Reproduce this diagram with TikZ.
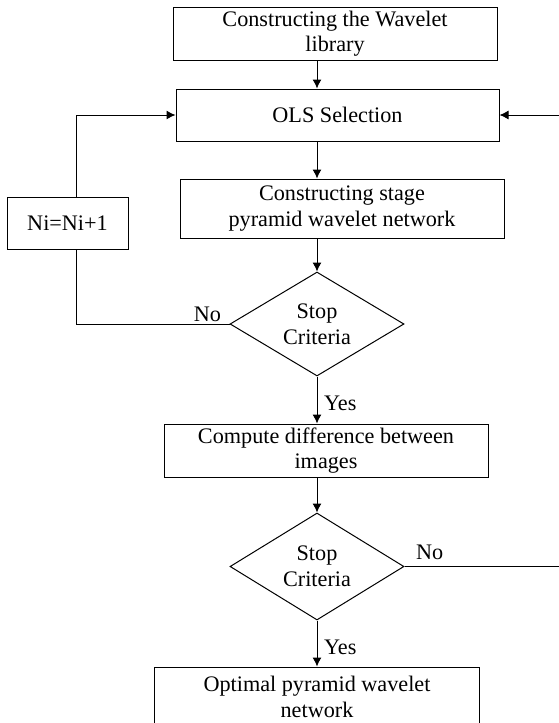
\documentclass[tikz,border=0pt]{standalone}
\usepackage{fontspec}
\setmainfont{Liberation Serif}
\usetikzlibrary{shapes.geometric,arrows.meta}

\begin{document}
\begin{tikzpicture}[x=0.5pt,y=0.5pt,->,>={Latex[length=4.5pt,width=4.5pt]},line width=0.5pt,
	font=\fontsize{11.1}{12.8}\selectfont,
	box/.style={rectangle,draw,align=center,minimum width=162pt,minimum height=26.5pt,inner sep=0pt},
	decision/.style={diamond,draw,align=center,shape aspect=1.7,minimum width=87pt,minimum height=52pt,inner sep=0pt}]
			
			\useasboundingbox (0,0) rectangle (558,-723);
			
			\node[box] (lib) at (335,-33.5) {Constructing the Wavelet\\library};
			\node[box,minimum width=161.5pt,minimum height=26pt] (ols) [below of = lib,node distance=40.75pt,xshift=1.25pt] {OLS Selection};
			\node[box,minimum height=29.5pt] (stage) [below of = ols,node distance=46.75pt,xshift=2.25pt] {Constructing stage\\pyramid wavelet network};
			\node[decision] (stop1) [below of = stage,node distance=57.75pt,xshift=-12.5pt] {Stop\\Criteria};
			\node[box] (diff) [below of = stop1,node distance=63.25pt,xshift=4.5pt] {Compute difference between\\images};
			\node[decision,minimum height=53.5pt] (stop2) [below of = diff,node distance=58pt,xshift=-4.5pt] {Stop\\Criteria};
			\node[box,minimum width=162.5pt,minimum height=30pt] (final) [below of = stop2,node distance=65.25pt] {Optimal pyramid wavelet\\network};
			\node[box,minimum width=60.5pt,minimum height=26pt] (ni) [left of = stage,node distance=137.25pt,yshift=-7.25pt] {Ni=Ni+1};
			
			% loop-back columns
			\coordinate (lx) at (76,0);
			\coordinate (rx) at (563,0);
			
			\path
			(lib.south -| stop1) edge (ols.north -| stop1)
			(ols.south -| stop1) edge (stage.north -| stop1)
			(stage.south -| stop1) edge (stop1.north)
			(stop1.south) edge node[right,pos=0.58] {Yes} (diff.north -| stop1)
			(diff.south -| stop2) edge (stop2.north)
			(stop2.south) edge node[right,pos=0.59] {Yes} (final.north -| stop2)
			;
			
			\draw[-] (stop1.west) node[anchor=south east,inner sep=1pt,xshift=-3pt] {No} -- (stop1.west -| lx) -- (ni.south -| lx);
			\draw (ni.north -| lx) |- (ols.west);
			\draw (stop2.east) node[anchor=south west,inner sep=0pt,xshift=5.5pt,yshift=3pt] {No} -- (stop2.east -| rx) |- (ols.east);
			\end{tikzpicture}
\end{document}
